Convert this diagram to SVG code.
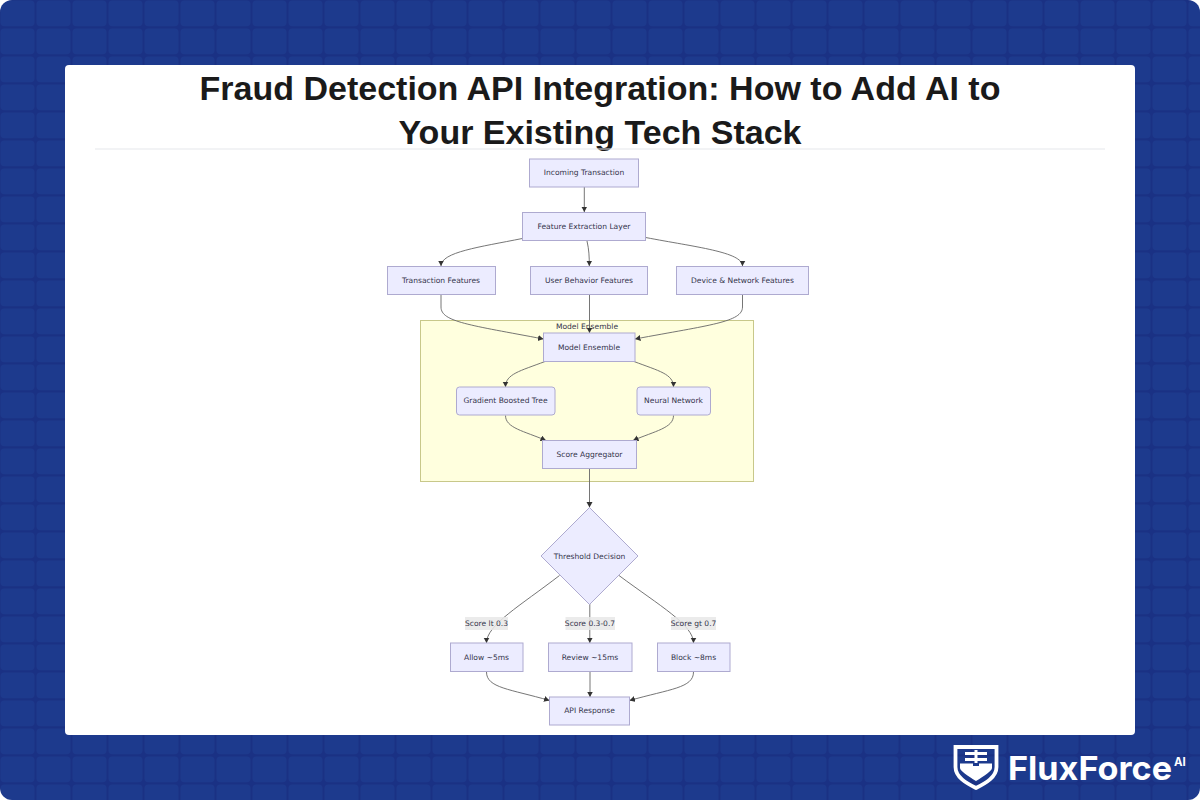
<svg xmlns="http://www.w3.org/2000/svg" width="1200" height="800" viewBox="0 0 1200 800">
<style>
.n{fill:#ececff;stroke:#aeaad0;stroke-width:1}
.t{font-family:"DejaVu Sans",sans-serif;font-size:7.55px;fill:#33334a;text-anchor:middle;dominant-baseline:central}
.e{fill:none;stroke:#666;stroke-width:.9}
.l{fill:#e8e8e8;opacity:.85}
</style>
<defs>
<pattern id="grid" x="0" y="0" width="36" height="28" patternUnits="userSpaceOnUse">
<rect width="36" height="28" fill="#1a3184"/>
<rect x="0.500" y="0.500" width="34" height="25.800" rx="4" fill="#1d3a8d"/>
</pattern>
<marker id="a" markerWidth="7" markerHeight="7" refX="5.500" refY="3" orient="auto" markerUnits="userSpaceOnUse"><path d="M0 0L5.500 3L0 6z" fill="#333"/></marker>
</defs>
<rect id="background" width="1200" height="800" rx="12" fill="url(#grid)"/>
<rect id="card" x="65" y="65" width="1070" height="670" rx="4" fill="#fff"/>
<g id="title" font-family="'Liberation Sans',Arial,sans-serif" font-weight="700" font-size="34" fill="#1a1a1a" text-anchor="middle">
<text x="600" y="100">Fraud Detection API Integration: How to Add AI to</text>
<text x="600" y="144">Your Existing Tech Stack</text>
</g>
<line id="rule" x1="95" y1="149" x2="1105" y2="149" stroke="#e5e7eb" stroke-width="1"/>
<g id="cluster"><rect x="420.500" y="320.500" width="333" height="161" fill="#ffffde" stroke="#c8c88a" stroke-width="1"/><text class="t" x="587" y="326.500">Model Ensemble</text></g>
<g id="connectors">
<path class="e" marker-end="url(#a)" d="M584.300 187V212"/>
<path class="e" marker-end="url(#a)" d="M522.300 238.500C480 247 441 252 441 266"/>
<path class="e" marker-end="url(#a)" d="M587 241C589 250 589.300 256 589.300 266"/>
<path class="e" marker-end="url(#a)" d="M645.700 237.500C695 247 742.500 252 742.500 266"/>
<path class="e" marker-end="url(#a)" d="M441 295V307C441 322 470 325 543.500 339"/>
<path class="e" marker-end="url(#a)" d="M589.500 295V333"/>
<path class="e" marker-end="url(#a)" d="M742.500 295V307C742.500 322 710 325 635 339"/>
<path class="e" marker-end="url(#a)" d="M545 361.500C520 371 505.500 374 505.500 387"/>
<path class="e" marker-end="url(#a)" d="M634 361.500C659 371 673.500 374 673.500 387"/>
<path class="e" marker-end="url(#a)" d="M505.500 415.500C505.500 428 524 431 546 440.500"/>
<path class="e" marker-end="url(#a)" d="M673.500 415.500C673.500 428 655 431 633 440.500"/>
<path class="e" marker-end="url(#a)" d="M589.500 469V507.500"/>
<path class="e" marker-end="url(#a)" d="M559.500 575.500C520 606 486.500 625 486.500 643"/>
<path class="e" marker-end="url(#a)" d="M589.800 604V643"/>
<path class="e" marker-end="url(#a)" d="M619 575.500C660 606 693.500 625 693.500 643"/>
<path class="e" marker-end="url(#a)" d="M486.500 672C486.500 688 510 689 549.500 700.500"/>
<path class="e" marker-end="url(#a)" d="M590 672V697"/>
<path class="e" marker-end="url(#a)" d="M693.500 672C693.500 688 670 689 629.500 700.500"/>
</g>
<g id="edge-labels">
<rect class="l" x="465" y="617" width="43" height="13"/><text class="t" x="486.500" y="623.500">Score lt 0.3</text>
<rect class="l" x="565.500" y="617" width="49.500" height="13"/><text class="t" x="590" y="623.500">Score 0.3-0.7</text>
<rect class="l" x="671" y="617" width="45" height="13"/><text class="t" x="693.500" y="623.500">Score gt 0.7</text>
</g>
<g id="incoming"><rect class="n" x="529.500" y="159" width="109" height="28"/><text class="t" x="584" y="172.500">Incoming Transaction</text></g>
<g id="feature-layer"><rect class="n" x="522.500" y="212.500" width="123" height="28"/><text class="t" x="584" y="226">Feature Extraction Layer</text></g>
<g id="transaction-features"><rect class="n" x="387.500" y="266.500" width="108" height="28"/><text class="t" x="441" y="280.500">Transaction Features</text></g>
<g id="user-features"><rect class="n" x="530.500" y="266.500" width="117" height="28"/><text class="t" x="589" y="280.500">User Behavior Features</text></g>
<g id="device-features"><rect class="n" x="676.500" y="266.500" width="132" height="28"/><text class="t" x="742.500" y="280.500">Device &amp; Network Features</text></g>
<g id="model-ensemble"><rect class="n" x="543.500" y="333" width="91.500" height="28.500"/><text class="t" x="589" y="347">Model Ensemble</text></g>
<g id="gbt"><rect class="n" x="456.500" y="387" width="98.500" height="28" rx="3"/><text class="t" x="505.500" y="400.500">Gradient Boosted Tree</text></g>
<g id="neural-network"><rect class="n" x="637" y="387" width="73.500" height="28" rx="3"/><text class="t" x="673.500" y="400.500">Neural Network</text></g>
<g id="score-aggregator"><rect class="n" x="542.500" y="440.500" width="94" height="28"/><text class="t" x="589.500" y="454.500">Score Aggregator</text></g>
<g id="threshold"><polygon class="n" points="589.500,507.500 638,556 589.500,604.500 541,556"/><text class="t" x="589.500" y="556">Threshold Decision</text></g>
<g id="allow"><rect class="n" x="450.500" y="643" width="72.500" height="28.500"/><text class="t" x="486.500" y="657">Allow ~5ms</text></g>
<g id="review"><rect class="n" x="548.500" y="643" width="83.500" height="28.500"/><text class="t" x="590" y="657">Review ~15ms</text></g>
<g id="block"><rect class="n" x="657.500" y="643" width="72.500" height="28.500"/><text class="t" x="693.500" y="657">Block ~8ms</text></g>
<g id="api-response"><rect class="n" x="549.500" y="697" width="80" height="28"/><text class="t" x="589.500" y="710.500">API Response</text></g>
<g id="logo">
<path d="M955.500 747H996.500V767C996.500 777 986 783 976 788C966 783 955.500 777 955.500 767Z" fill="none" stroke="#fff" stroke-width="3.800"/>
<path d="M965 752H974.500V750H977.500V752H987V755H977.500V758H987V761H977.500V763H974.500V761H965V758H974.500V755H965Z" fill="#fff"/>
<path d="M960 763.500H973V766H979V763.500H992V768C992 771 984 776 976 781C968 776 960 771 960 768Z" fill="#fff"/>
<text x="1008" y="780" textLength="164" lengthAdjust="spacingAndGlyphs" font-family="Inter,'Liberation Sans',sans-serif" font-weight="700" font-size="33" fill="#fff">FluxForce</text>
<text x="1174" y="765.500" font-family="Inter,'Liberation Sans',sans-serif" font-weight="700" font-size="11.500" fill="#fff">AI</text>
</g>
</svg>
